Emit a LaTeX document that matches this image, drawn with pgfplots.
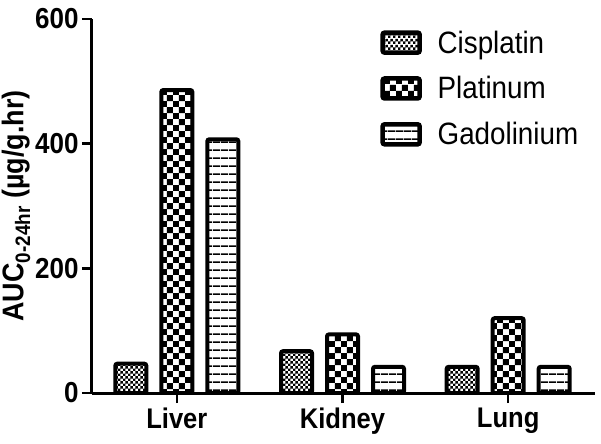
\documentclass[border=0pt]{standalone}
\usepackage{fontspec}
\setmainfont{Liberation Sans}[FakeStretch=0.9]
\usepackage{pgfplots}
\pgfplotsset{compat=1.18}
\usetikzlibrary{patterns}

\pgfdeclarepatternformonly{finecheck}{\pgfqpoint{0pt}{0pt}}{\pgfqpoint{5.4bp}{5.4bp}}{\pgfqpoint{5.4bp}{5.4bp}}{%
  \pgfpathrectangle{\pgfqpoint{0pt}{0pt}}{\pgfqpoint{2.7bp}{2.7bp}}%
  \pgfpathrectangle{\pgfqpoint{2.7bp}{2.7bp}}{\pgfqpoint{2.7bp}{2.7bp}}%
  \pgfusepath{fill}}
\pgfdeclarepatternformonly{bigcheck}{\pgfqpoint{0pt}{0pt}}{\pgfqpoint{12.4bp}{12.4bp}}{\pgfqpoint{12.4bp}{12.4bp}}{%
  \pgfpathrectangle{\pgfqpoint{0pt}{0pt}}{\pgfqpoint{6.2bp}{6.2bp}}%
  \pgfpathrectangle{\pgfqpoint{6.2bp}{6.2bp}}{\pgfqpoint{6.2bp}{6.2bp}}%
  \pgfusepath{fill}}
\pgfdeclarepatternformonly{hlinesp}{\pgfqpoint{0pt}{0pt}}{\pgfqpoint{7.6bp}{7.6bp}}{\pgfqpoint{7.6bp}{7.6bp}}{%
  \pgfpathrectangle{\pgfqpoint{0pt}{0pt}}{\pgfqpoint{7.6bp}{1.8bp}}%
  \pgfusepath{fill}}

\pgfplotsset{mylegend/.style={legend image code/.code={%
  \draw[##1, line width=4.5bp, rounded corners=2bp] (0bp,-10bp) rectangle (37bp,10bp);
  \path[draw=none, fill=none] (37bp,0bp) -- (53bp,0bp);}}}

\begin{document}
\begin{tikzpicture}
\begin{axis}[
  width=503bp, height=374bp, scale only axis,
  xmin=-0.512, xmax=2.524, ymin=0, ymax=600,
  axis lines*=left,
  axis line style={line width=3bp, black},
  ytick={0,200,400,600},
  xtick={0,1,2}, xticklabels={Liver,Kidney,Lung},
  tick style={line width=2.5bp, black},
  tick align=outside, major tick length=10bp,
  /pgf/number format/assume math mode=true,
  yticklabel style={font=\bfseries\fontsize{29}{31}\selectfont, xshift=0bp},
  xticklabel style={font=\bfseries\fontsize{28.5}{31}\selectfont, yshift=-1bp},
  ylabel={AUC\textsubscript{0-24hr} (µg/g.hr)},
  ylabel style={font=\bfseries\fontsize{30}{32}\selectfont, yshift=-2bp},
  ybar=15bp, bar width=31bp,
  legend style={draw=none, fill=none, at={(rel axis cs:0.567,0.98)}, anchor=north west,
    font=\fontsize{31}{33}\selectfont, row sep=18bp, cells={anchor=west}},
  legend cell align=left,
]
\addplot[draw=black, line width=4bp, rounded corners=2bp, pattern=finecheck, mylegend]
  coordinates {(0,47) (1,67) (2,42)};
\addplot[draw=black, line width=4bp, rounded corners=2bp, pattern=bigcheck, mylegend]
  coordinates {(0,486) (1,94) (2,120)};
\addplot[draw=black, line width=4bp, rounded corners=2bp, pattern=hlinesp, mylegend]
  coordinates {(0,407) (1,42) (2,42)};
\legend{Cisplatin,Platinum,Gadolinium}
\end{axis}
\pgfresetboundingbox
\path (-92bp,-51bp) rectangle (509bp,393bp);
\end{tikzpicture}
\end{document}
